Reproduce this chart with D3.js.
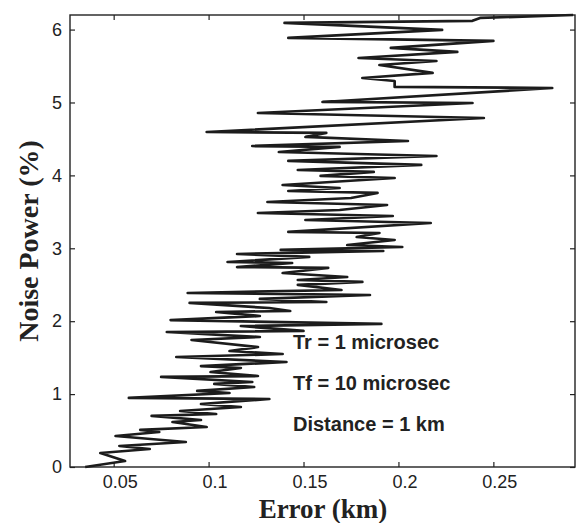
<!DOCTYPE html>
<html>
<head>
<meta charset="utf-8">
<script src="https://cdn.jsdelivr.net/npm/d3@7"></script>
<style>
  body { margin: 0; background: #fff; }
  svg { display: block; }
</style>
</head>
<body>
<div id="chart"></div>
<script>
// values, bottom to top
const errorKm = [
    0.035, 0.056, 0.043, 0.069, 0.053, 0.088, 0.051, 0.074, 0.064, 0.099,
    0.081, 0.096, 0.070, 0.104, 0.085, 0.117, 0.096, 0.132, 0.058, 0.111,
    0.094, 0.124, 0.103, 0.123, 0.075, 0.126, 0.101, 0.117, 0.096, 0.141,
    0.083, 0.139, 0.111, 0.126, 0.091, 0.127, 0.078, 0.150, 0.117, 0.191,
    0.080, 0.127, 0.104, 0.143, 0.132, 0.090, 0.162, 0.127, 0.185, 0.089,
    0.170, 0.147, 0.181, 0.147, 0.173, 0.139, 0.163, 0.115, 0.144, 0.110,
    0.153, 0.115, 0.192, 0.138, 0.202, 0.173, 0.198, 0.178, 0.190, 0.142,
    0.217, 0.151, 0.197, 0.126, 0.169, 0.194, 0.131, 0.175, 0.189, 0.142,
    0.169, 0.139, 0.198, 0.159, 0.187, 0.147, 0.212, 0.142, 0.220, 0.137,
    0.169, 0.123, 0.205, 0.151, 0.162, 0.099, 0.245, 0.126, 0.239, 0.160,
    0.281, 0.198, 0.198, 0.181, 0.218, 0.190, 0.220, 0.179, 0.231, 0.196,
    0.250, 0.142, 0.223, 0.140, 0.239, 0.243, 0.292
];
const noisePower = [
    0, 0.082, 0.192, 0.247, 0.288, 0.343, 0.425, 0.480, 0.508, 0.549,
    0.617, 0.645, 0.700, 0.727, 0.768, 0.823, 0.864, 0.933, 0.947, 1.015,
    1.043, 1.097, 1.139, 1.166, 1.235, 1.248, 1.303, 1.358, 1.385, 1.440,
    1.509, 1.550, 1.591, 1.646, 1.742, 1.783, 1.852, 1.866, 1.934, 1.962,
    2.016, 2.071, 2.126, 2.140, 2.181, 2.250, 2.263, 2.305, 2.359, 2.387,
    2.428, 2.497, 2.538, 2.565, 2.606, 2.661, 2.730, 2.743, 2.798, 2.812,
    2.881, 2.922, 2.963, 2.977, 3.018, 3.045, 3.114, 3.155, 3.210, 3.224,
    3.347, 3.388, 3.443, 3.484, 3.525, 3.594, 3.635, 3.690, 3.759, 3.786,
    3.827, 3.868, 3.964, 3.992, 4.047, 4.074, 4.143, 4.198, 4.266, 4.321,
    4.390, 4.403, 4.472, 4.527, 4.582, 4.595, 4.787, 4.856, 4.993, 5.007,
    5.199, 5.213, 5.295, 5.336, 5.405, 5.514, 5.569, 5.610, 5.693, 5.748,
    5.844, 5.885, 5.995, 6.091, 6.12, 6.16, 6.2
];
const xTicks = [0.05, 0.1, 0.15, 0.2, 0.25];
const yTicks = [0, 1, 2, 3, 4, 5, 6];
const xDomain = [0.027, 0.293];
const yDomain = [0, 6.2];
const notes = ["Tr = 1 microsec", "Tf = 10 microsec", "Distance = 1 km"];

class NoiseChart {

    constructor(_config) {
        this.config = {
            parentElement: _config.parentElement,
            containerWidth: _config.containerWidth || 587,
            containerHeight: _config.containerHeight || 523,
            margin: _config.margin || {top: 15, right: 12, bottom: 56, left: 70}
        };
        this.data = errorKm.map((e, i) => ({error: e, noise: noisePower[i]}));
        this.initVis();
    }

    initVis() {
        let vis = this;

        vis.width = vis.config.containerWidth - vis.config.margin.left - vis.config.margin.right;
        vis.height = vis.config.containerHeight - vis.config.margin.top - vis.config.margin.bottom;

        vis.svg = d3.select(vis.config.parentElement)
            .append('svg')
            .attr('width', vis.config.containerWidth)
            .attr('height', vis.config.containerHeight);

        vis.chart = vis.svg.append('g')
            .attr('transform', `translate(${vis.config.margin.left},${vis.config.margin.top})`);

        vis.xScale = d3.scaleLinear().domain(xDomain).range([0, vis.width]);
        vis.yScale = d3.scaleLinear().domain(yDomain).range([vis.height, 0]);

        vis.renderVis();
    }

    renderVis() {
        let vis = this;
        const tickFont = '"Liberation Sans", Arial, sans-serif';
        const titleFont = '"Liberation Serif", "Times New Roman", serif';

        // inward ticks on all four sides, matlab style
        const xAxis = d3.axisBottom(vis.xScale).tickValues(xTicks).tickSizeInner(-5).tickSizeOuter(0).tickFormat(d3.format('~g'));
        const xTop = d3.axisTop(vis.xScale).tickValues(xTicks).tickSizeInner(-5).tickSizeOuter(0).tickFormat('');
        const yAxis = d3.axisLeft(vis.yScale).tickValues(yTicks).tickSizeInner(-5).tickSizeOuter(0).tickFormat(d3.format('d'));
        const yRight = d3.axisRight(vis.yScale).tickValues(yTicks).tickSizeInner(-5).tickSizeOuter(0).tickFormat('');

        const gx = vis.chart.append('g').attr('transform', `translate(0,${vis.height})`).call(xAxis);
        vis.chart.append('g').call(xTop);
        const gy = vis.chart.append('g').call(yAxis);
        vis.chart.append('g').attr('transform', `translate(${vis.width},0)`).call(yRight);

        vis.chart.selectAll('.domain').remove();
        vis.chart.selectAll('.tick line').attr('stroke', '#222').attr('stroke-width', 1.2);

        gx.selectAll('text')
            .attr('y', 8)
            .attr('dy', '0.71em')
            .attr('dx', 6)
            .style('font-family', tickFont)
            .style('font-size', '18px')
            .style('fill', '#222');

        gy.selectAll('text')
            .attr('x', -8)
            .style('font-family', tickFont)
            .style('font-size', '18px')
            .style('fill', '#222');

        // frame
        vis.chart.append('rect')
            .attr('width', vis.width)
            .attr('height', vis.height)
            .attr('fill', 'none')
            .attr('stroke', '#222')
            .attr('stroke-width', 1.4);

        const line = d3.line()
            .x(d => vis.xScale(d.error))
            .y(d => vis.yScale(d.noise));

        vis.chart.append('path')
            .datum(vis.data)
            .attr('d', line)
            .attr('fill', 'none')
            .attr('stroke', '#1c1c1c')
            .attr('stroke-width', 2.7)
            .attr('stroke-linejoin', 'round');

        // parameter notes
        vis.chart.selectAll('.note')
            .data(notes)
            .join('text')
            .attr('class', 'note')
            .attr('x', 223)
            .attr('y', (d, i) => 334 + i * 41)
            .text(d => d)
            .style('font-family', tickFont)
            .style('font-weight', 'bold')
            .style('font-size', '20px')
            .style('fill', '#222');

        // axis titles
        vis.svg.append('text')
            .attr('x', 323)
            .attr('y', 518)
            .attr('text-anchor', 'middle')
            .text('Error (km)')
            .style('font-family', titleFont)
            .style('font-weight', 'bold')
            .style('font-size', '27px')
            .style('fill', '#222');

        vis.svg.append('text')
            .attr('transform', 'translate(38,241) rotate(-90)')
            .attr('text-anchor', 'middle')
            .text('Noise Power (%)')
            .style('font-family', titleFont)
            .style('font-weight', 'bold')
            .style('font-size', '28px')
            .style('fill', '#222');
    }
}

let noiseChart = new NoiseChart({parentElement: '#chart'});
</script>
</body>
</html>
